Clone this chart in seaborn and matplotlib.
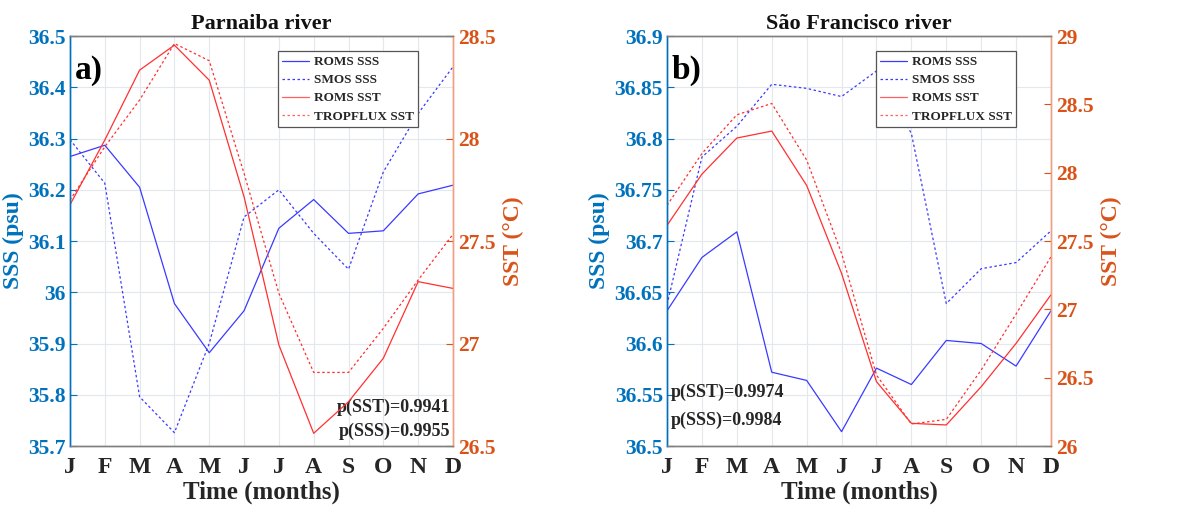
import numpy as np
import pandas as pd
import matplotlib
matplotlib.use("Agg")
import matplotlib.pyplot as plt
import seaborn as sns

months = ["J", "F", "M", "A", "M", "J", "J", "A", "S", "O", "N", "D"]

# Parnaiba river
parn_roms_sss = [36.265, 36.287, 36.205, 35.978, 35.882, 35.964, 36.125, 36.181, 36.115, 36.120, 36.192, 36.209]
parn_smos_sss = [36.298, 36.213, 35.796, 35.726, 35.900, 36.147, 36.200, 36.115, 36.045, 36.235, 36.349, 36.440]
parn_roms_sst = [27.677, 27.993, 28.334, 28.456, 28.285, 27.716, 26.993, 26.562, 26.716, 26.928, 27.302, 27.269]
parn_trop_sst = [27.700, 27.960, 28.188, 28.464, 28.380, 27.830, 27.245, 26.859, 26.859, 27.074, 27.310, 27.533]

# Sao Francisco river
sf_roms_sss = [36.632, 36.684, 36.709, 36.572, 36.564, 36.514, 36.576, 36.560, 36.603, 36.600, 36.578, 36.632]
sf_smos_sss = [36.638, 36.782, 36.812, 36.853, 36.849, 36.841, 36.866, 36.805, 36.639, 36.673, 36.679, 36.710]
sf_roms_sst = [27.615, 27.990, 28.254, 28.305, 27.907, 27.263, 26.471, 26.166, 26.154, 26.434, 26.751, 27.107]
sf_trop_sst = [27.761, 28.141, 28.424, 28.507, 28.093, 27.410, 26.520, 26.161, 26.195, 26.556, 26.966, 27.385]

sns.set_style("white")
plt.rcParams["font.family"] = ["Liberation Serif", "DejaVu Serif"]
plt.rcParams["font.weight"] = "bold"

blue_ax = "#0072BD"
orange_ax = "#D95319"
line_blue = "#3a3aff"
line_red = "#ff3030"

fig = plt.figure(figsize=(11.92, 5.13), dpi=100)
ax_a = fig.add_axes([0.0587, 0.1306, 0.3213, 0.799])
ax_b = fig.add_axes([0.5596, 0.1306, 0.3221, 0.799])

panels = [
    (ax_a, "Parnaiba river", "a)", parn_roms_sss, parn_smos_sss, parn_roms_sst, parn_trop_sst,
     (35.7, 36.5), np.arange(35.7, 36.51, 0.1), (26.5, 28.5), [26.5, 27, 27.5, 28, 28.5],
     ["p(SST)=0.9941", "p(SSS)=0.9955"], "br"),
    (ax_b, "São Francisco river", "b)", sf_roms_sss, sf_smos_sss, sf_roms_sst, sf_trop_sst,
     (36.5, 36.9), np.arange(36.5, 36.91, 0.05), (26, 29), [26, 26.5, 27, 27.5, 28, 28.5, 29],
     ["p(SST)=0.9974", "p(SSS)=0.9984"], "bl"),
]

x = np.arange(12)


def fmt(v):
    return f"{v:.2f}".rstrip("0").rstrip(".")


for ax, title, tag, roms_sss, smos_sss, roms_sst, trop_sst, sss_lim, sss_ticks, sst_lim, sst_ticks, ptxt, ppos in panels:
    ax2 = ax.twinx()
    df = pd.DataFrame({"x": x, "roms_sss": roms_sss, "smos_sss": smos_sss,
                       "roms_sst": roms_sst, "trop_sst": trop_sst})
    sns.lineplot(data=df, x="x", y="roms_sss", ax=ax, color=line_blue, lw=0.9)
    sns.lineplot(data=df, x="x", y="smos_sss", ax=ax, color=line_blue, lw=0.9, linestyle=(0, (2, 2)))
    sns.lineplot(data=df, x="x", y="roms_sst", ax=ax2, color=line_red, lw=0.9)
    sns.lineplot(data=df, x="x", y="trop_sst", ax=ax2, color=line_red, lw=0.9, linestyle=(0, (2, 2)))

    ax.set_xlim(0, 11)
    ax.set_ylim(*sss_lim)
    ax2.set_ylim(*sst_lim)
    ax.set_xticks(x)
    ax.set_xticklabels(months, fontsize=17, fontweight="bold", color="#262626")
    ax.set_yticks(sss_ticks)
    ax.set_yticklabels([fmt(v) for v in sss_ticks], fontsize=15.5, fontweight="bold", color=blue_ax)
    ax2.set_yticks(sst_ticks)
    ax2.set_yticklabels([fmt(v) for v in sst_ticks], fontsize=15.5, fontweight="bold", color=orange_ax)
    ax.grid(True, color="#e3e8ec", lw=0.8)
    ax.tick_params(axis="y", direction="in", length=5, width=0.8, pad=3, colors=blue_ax)
    ax.tick_params(axis="x", direction="in", length=5, width=0.8, pad=8, colors="#777777",
                   labelcolor="#262626")
    ax2.tick_params(axis="y", direction="in", length=5, width=0.8, colors=orange_ax, pad=4)

    ax.set_xlabel("Time (months)", fontsize=18, fontweight="bold", color="#262626", labelpad=2)
    ax.set_ylabel("SSS (psu)", fontsize=17, fontweight="bold", color=blue_ax, labelpad=3)
    ax2.set_ylabel("SST (°C)", fontsize=17, fontweight="bold", color=orange_ax, labelpad=5)
    ax.set_title(title, fontsize=16, fontweight="bold", color="#111111", pad=5)

    for a in (ax, ax2):
        a.spines["top"].set_color("#808080")
        a.spines["bottom"].set_color("#808080")
        a.spines["left"].set_color(blue_ax)
        a.spines["right"].set_color("#f0a080")
        for s in a.spines.values():
            s.set_linewidth(1.0)

    ax.text(0.012, 0.955, tag, transform=ax.transAxes, fontsize=24, fontweight="bold",
            va="top", ha="left", color="black")

    if ppos == "br":
        ax.text(0.993, 0.095, ptxt[0], transform=ax.transAxes, fontsize=13, fontweight="bold",
                ha="right", va="center")
        ax.text(0.993, 0.035, ptxt[1], transform=ax.transAxes, fontsize=13, fontweight="bold",
                ha="right", va="center")
    else:
        ax.text(0.01, 0.13, ptxt[0], transform=ax.transAxes, fontsize=13, fontweight="bold",
                ha="left", va="center")
        ax.text(0.01, 0.062, ptxt[1], transform=ax.transAxes, fontsize=13, fontweight="bold",
                ha="left", va="center")

    handles = [
        plt.Line2D([], [], color=line_blue, lw=0.9),
        plt.Line2D([], [], color=line_blue, lw=0.9, linestyle=(0, (2, 2))),
        plt.Line2D([], [], color="#ff6060", lw=0.9),
        plt.Line2D([], [], color="#ff6060", lw=0.9, linestyle=(0, (2, 2))),
    ]
    leg = ax2.legend(handles, ["ROMS SSS", "SMOS SSS", "ROMS SST", "TROPFLUX SST"],
                     loc="upper right", bbox_to_anchor=(0.91, 0.963),
                     frameon=True, fancybox=False, handlelength=2.0, labelspacing=0.45,
                     borderpad=0.35, handletextpad=0.4, borderaxespad=0,
                     prop={"weight": "bold", "size": 9.5})
    leg.get_frame().set_edgecolor("#555555")
    leg.get_frame().set_linewidth(0.9)
    leg.get_frame().set_alpha(1)

fig.savefig("out.png", dpi=100)
